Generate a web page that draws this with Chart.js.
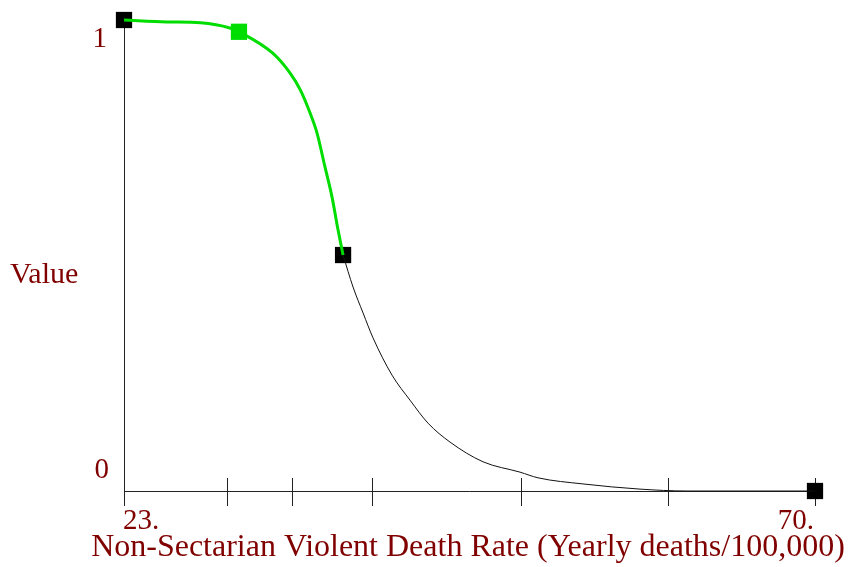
<!DOCTYPE html>
<html>
<head>
<meta charset="utf-8">
<title>Lookup</title>
<script src="https://cdn.jsdelivr.net/npm/chart.js@4.4.1/dist/chart.umd.min.js"></script>
<style>
  html, body { margin: 0; padding: 0; background: #fff; }
  canvas { display: block; }
</style>
</head>
<body>
<canvas id="lookup" width="856" height="567"></canvas>
<script>
// values
const greenX = [23, 25.9, 28.2, 30.2, 30.82, 33.1, 34.3, 35.0, 35.65, 36.13, 36.67, 37.15, 37.56, 37.9];
const greenY = [1.0, 0.996, 0.994, 0.983, 0.975, 0.93, 0.887, 0.851, 0.803, 0.76, 0.688, 0.624, 0.554, 0.501];
const blackX = [37.9, 38.58, 39.26, 39.94, 41.23, 42.45, 43.68, 45.17, 47.42, 49.94, 51.16, 54.22, 58.1, 61.3, 70];
const blackY = [0.501, 0.433, 0.378, 0.325, 0.246, 0.193, 0.144, 0.104, 0.062, 0.04, 0.028, 0.015, 0.004, 0.0, 0.0];
const markerX = [23, 30.82, 37.9, 70];
const markerY = [1.0, 0.975, 0.501, 0.0];
const markerColors = ['#000000', '#00dd00', '#000000', '#000000'];
const tickValues = [23, 30, 34.4, 39.85, 50, 60, 70];
const xTickLabels = ['23.', '70.'];
const yTickLabels = ['1', '0'];
const xTitle = 'Non-Sectarian Violent Death Rate (Yearly deaths/100,000)';
const yTitle = 'Value';

const toPoints = (xs, ys) => xs.map((x, i) => ({ x: x, y: ys[i] }));

const textColor = '#800000';
const serif = '"Liberation Serif", "Times New Roman", serif';

// axes, ticks and labels drawn the Vensim way, positioned by the chart's scales
const vensimAxes = {
  id: 'vensimAxes',
  beforeDatasetsDraw(chart) {
    const ctx = chart.ctx;
    const x = chart.scales.x;
    const y = chart.scales.y;
    const x0 = x.getPixelForValue(23);
    const x1 = x.getPixelForValue(70);
    const y0 = y.getPixelForValue(0);
    const y1 = y.getPixelForValue(1);
    ctx.save();
    ctx.strokeStyle = '#222';
    ctx.lineWidth = 1;
    ctx.beginPath();
    ctx.moveTo(x0 + 0.5, y1);
    ctx.lineTo(x0 + 0.5, y0 + 0.5);
    ctx.lineTo(x1, y0 + 0.5);
    ctx.stroke();
    tickValues.forEach(v => {
      const px = Math.round(x.getPixelForValue(v)) + 0.5;
      ctx.beginPath();
      ctx.moveTo(px, y0 - 13);
      ctx.lineTo(px, y0 + 15);
      ctx.stroke();
    });
    ctx.restore();
  },
  afterDraw(chart) {
    const ctx = chart.ctx;
    const x = chart.scales.x;
    const y = chart.scales.y;
    const x0 = x.getPixelForValue(23);
    const x1 = x.getPixelForValue(70);
    const y0 = y.getPixelForValue(0);
    const y1 = y.getPixelForValue(1);
    ctx.save();
    ctx.fillStyle = textColor;
    ctx.textBaseline = 'middle';
    ctx.font = '29px ' + serif;
    ctx.textAlign = 'right';
    ctx.fillText(yTickLabels[0], x0 - 17, y1 + 19);
    ctx.fillText(yTickLabels[1], x0 - 15, y0 - 21);
    ctx.textAlign = 'left';
    ctx.fillText(xTickLabels[0], x0 - 1, y0 + 30);
    ctx.textAlign = 'right';
    ctx.fillText(xTickLabels[1], x1 - 1, y0 + 30);
    ctx.font = '30px ' + serif;
    ctx.textAlign = 'left';
    ctx.fillText(yTitle, 10, (y0 + y1) / 2 + 20);
    ctx.font = '32px ' + serif;
    ctx.textAlign = 'center';
    ctx.fillText(xTitle, 468, y0 + 57);
    ctx.restore();
  }
};

new Chart(document.getElementById('lookup'), {
  type: 'line',
  data: {
    datasets: [
      {
        data: toPoints(greenX, greenY),
        borderColor: '#00dd00',
        borderWidth: 3,
        pointRadius: 0,
        cubicInterpolationMode: 'monotone',
        clip: false
      },
      {
        data: toPoints(blackX, blackY),
        borderColor: '#111111',
        borderWidth: 1,
        pointRadius: 0,
        cubicInterpolationMode: 'monotone',
        clip: false
      },
      {
        data: toPoints(markerX, markerY),
        showLine: false,
        pointStyle: 'rect',
        pointRadius: 11.5,
        pointBackgroundColor: markerColors,
        pointBorderColor: markerColors,
        pointBorderWidth: 0,
        clip: false
      }
    ]
  },
  options: {
    responsive: false,
    animation: false,
    layout: { padding: { left: 124, right: 41, top: 20, bottom: 76 } },
    plugins: { legend: { display: false }, tooltip: { enabled: false } },
    scales: {
      x: { type: 'linear', min: 23, max: 70, display: false },
      y: { type: 'linear', min: 0, max: 1, display: false }
    }
  },
  plugins: [vensimAxes]
});
</script>
</body>
</html>
